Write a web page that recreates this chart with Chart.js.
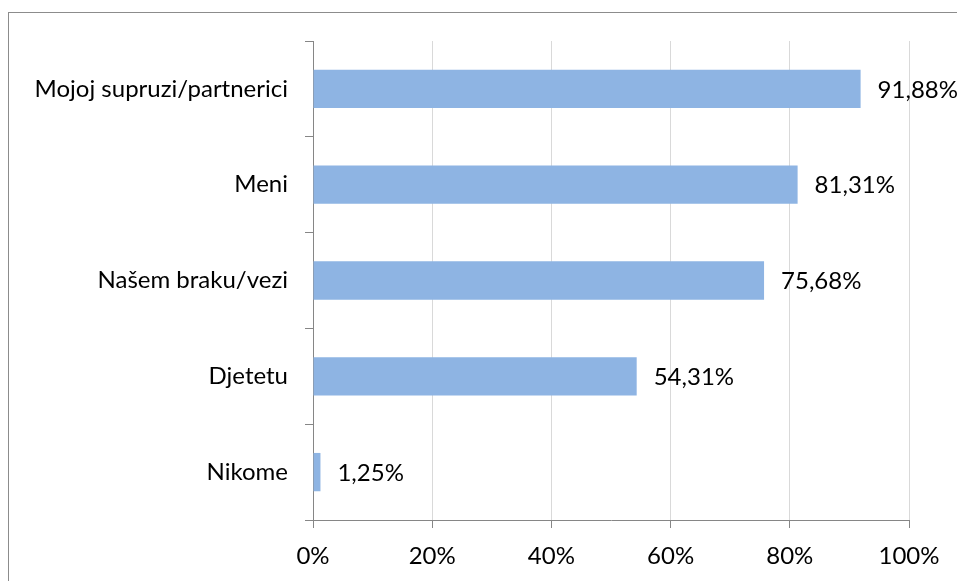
<!DOCTYPE html>
<html>
<head>
<meta charset="utf-8">
<script src="https://cdn.jsdelivr.net/npm/chart.js@4"></script>
<style>
  html, body { margin: 0; padding: 0; background: #fff; }
  #wrap { position: relative; width: 957px; height: 581px; }
</style>
</head>
<body>
<div id="wrap"><canvas id="chart" width="957" height="581"></canvas></div>
<script>
const categories = ['Mojoj supruzi/partnerici', 'Meni', 'Našem braku/vezi', 'Djetetu', 'Nikome'];
const values = [91.88, 81.31, 75.68, 54.31, 1.25];
const valueLabels = ['91,88%', '81,31%', '75,68%', '54,31%', '1,25%'];
const xTicks = [0, 20, 40, 60, 80, 100];

const FONT = 'Lato, "Noto Sans", sans-serif';
const FONT_SIZE = 24;

// okvir oko cijelog grafikona
const frame = {
  id: 'frame',
  beforeDraw(chart) {
    const c = chart.ctx;
    c.save();
    c.strokeStyle = '#8c8c8c';
    c.lineWidth = 1;
    c.strokeRect(8.5, 12.5, 1200, 1200);
    c.restore();
  }
};

// oznake vrijednosti desno od stupaca
const barLabels = {
  id: 'barLabels',
  afterDatasetsDraw(chart) {
    const c = chart.ctx;
    const meta = chart.getDatasetMeta(0);
    c.save();
    c.font = FONT_SIZE + 'px ' + FONT;
    c.fillStyle = '#000';
    c.textAlign = 'left';
    c.textBaseline = 'middle';
    meta.data.forEach((bar, i) => {
      c.fillText(valueLabels[i], bar.x + 17, bar.y + 1);
    });
    c.restore();
  }
};

new Chart(document.getElementById('chart'), {
  type: 'bar',
  data: {
    labels: categories,
    datasets: [{
      data: values,
      backgroundColor: '#8eb4e3',
      borderWidth: 0,
      categoryPercentage: 0.4,
      barPercentage: 1
    }]
  },
  options: {
    indexAxis: 'y',
    responsive: false,
    animation: false,
    events: [],
    layout: { padding: { top: 41, right: 48, left: 0, bottom: 0 } },
    scales: {
      x: {
        min: 0,
        max: 100,
        afterBuildTicks(scale) { scale.ticks = xTicks.map(v => ({ value: v })); },
        afterFit(scale) { scale.height = 61; },
        border: { color: '#868686', width: 1 },
        grid: { color: '#d9d9d9', tickColor: '#868686', tickLength: 8, lineWidth: 1 },
        ticks: {
          font: { family: FONT, size: FONT_SIZE },
          color: '#000',
          padding: 14,
          maxRotation: 0,
          callback: v => v + '%'
        }
      },
      y: {
        afterFit(scale) { scale.width = 313; },
        border: { color: '#868686', width: 1 },
        grid: { drawOnChartArea: false, drawTicks: true, tickLength: 8, color: '#868686', offset: true },
        ticks: {
          font: { family: FONT, size: FONT_SIZE },
          color: '#000',
          padding: 17
        }
      }
    },
    plugins: {
      legend: { display: false },
      tooltip: { enabled: false }
    }
  },
  plugins: [frame, barLabels]
});
</script>
</body>
</html>
